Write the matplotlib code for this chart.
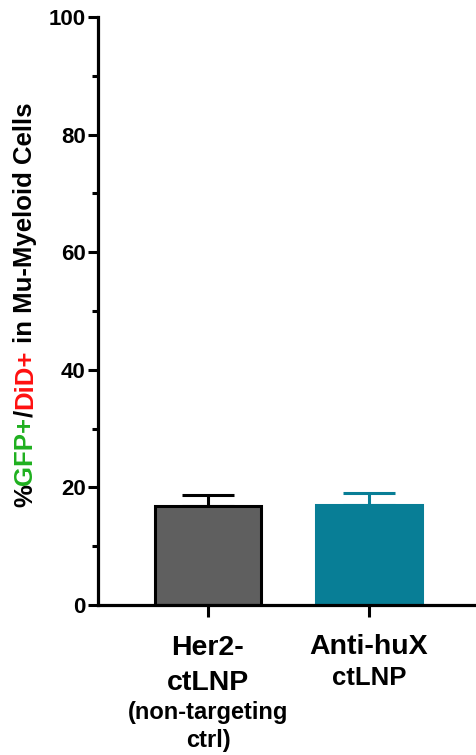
import numpy as np
import matplotlib
matplotlib.use('Agg')
from matplotlib import pyplot as plt
from matplotlib.transforms import IdentityTransform

plt.rcParams['font.family'] = ['Liberation Sans', 'DejaVu Sans']
plt.rcParams['font.weight'] = 'bold'

# data
groups = ['Her2-ctLNP', 'Anti-huX ctLNP']
means = [16.8, 17.0]
sems = [1.9, 2.0]
bar_colors = ['#5f5f5f', '#087e96']
edge_colors = ['black', '#087e96']
err_colors = ['black', '#087e96']

ylabel_parts = [('%', 'black'), ('GFP+', '#1fb01f'), ('/', 'black'),
                ('DiD+', '#ff1010'), (' in Mu-Myeloid Cells', 'black')]

W, H = 476, 755
fig = plt.figure(figsize=(W / 100, H / 100), dpi=100)
ax = fig.add_axes([98 / W, 1 - 605 / H, 1 - 98 / W, (605 - 17) / H])

x = np.arange(len(groups))
for i in range(len(groups)):
    ax.errorbar(x[i], means[i], yerr=[[0], [sems[i]]], fmt='none',
                ecolor=err_colors[i], elinewidth=2.2, capsize=19,
                capthick=2.2, zorder=1)
    ax.bar(x[i], means[i], width=0.66, color=bar_colors[i],
           edgecolor=edge_colors[i], linewidth=2.2, zorder=2)

ax.set_xlim(-0.683, 1.665)
ax.set_ylim(0, 100)
ax.set_yticks(np.arange(0, 101, 20))
ax.set_yticks(np.arange(10, 100, 20), minor=True)
ax.set_xticks(x)
ax.set_xticklabels(['', ''])
for s in ['top', 'right']:
    ax.spines[s].set_visible(False)
for s in ['left', 'bottom']:
    ax.spines[s].set_linewidth(2.3)
ax.tick_params(axis='y', which='major', length=7.5, width=2.2, pad=1.5,
               labelsize=16)
ax.tick_params(axis='y', which='minor', length=4.5, width=2.2)
ax.tick_params(axis='x', which='major', length=8.5, width=2.2)
for lab in ax.get_yticklabels():
    lab.set_fontweight('bold')

# category labels
labels = [
    (0, 'Her2-', 50, 20.5), (0, 'ctLNP', 85, 20.5),
    (0, '(non-targeting', 114, 17), (0, 'ctrl)', 142, 17),
    (1, 'Anti-huX', 49, 20.5), (1, 'ctLNP', 80, 18.5),
]
for xi, txt, off, fs in labels:
    ax.annotate(txt, xy=(x[xi], 0), xycoords=('data', 'axes fraction'),
                xytext=(0, -off), textcoords='offset pixels',
                ha='center', va='baseline', fontsize=fs, fontweight='bold',
                annotation_clip=False)

# multicolour y label, stacked piece by piece
renderer = fig.canvas.get_renderer()
texts = []
lengths = []
for txt, col in ylabel_parts:
    t = fig.text(0, 0, txt, color=col, rotation=90, fontsize=18.5,
                 fontweight='bold', ha='center', va='bottom',
                 transform=IdentityTransform())
    lengths.append(t.get_window_extent(renderer).height)
    texts.append(t)
cx, cy = 25, H - 305
ystart = cy - sum(lengths) / 2
for t, l in zip(texts, lengths):
    t.set_position((cx, ystart))
    ystart += l

fig.savefig('out.png', dpi=100)
